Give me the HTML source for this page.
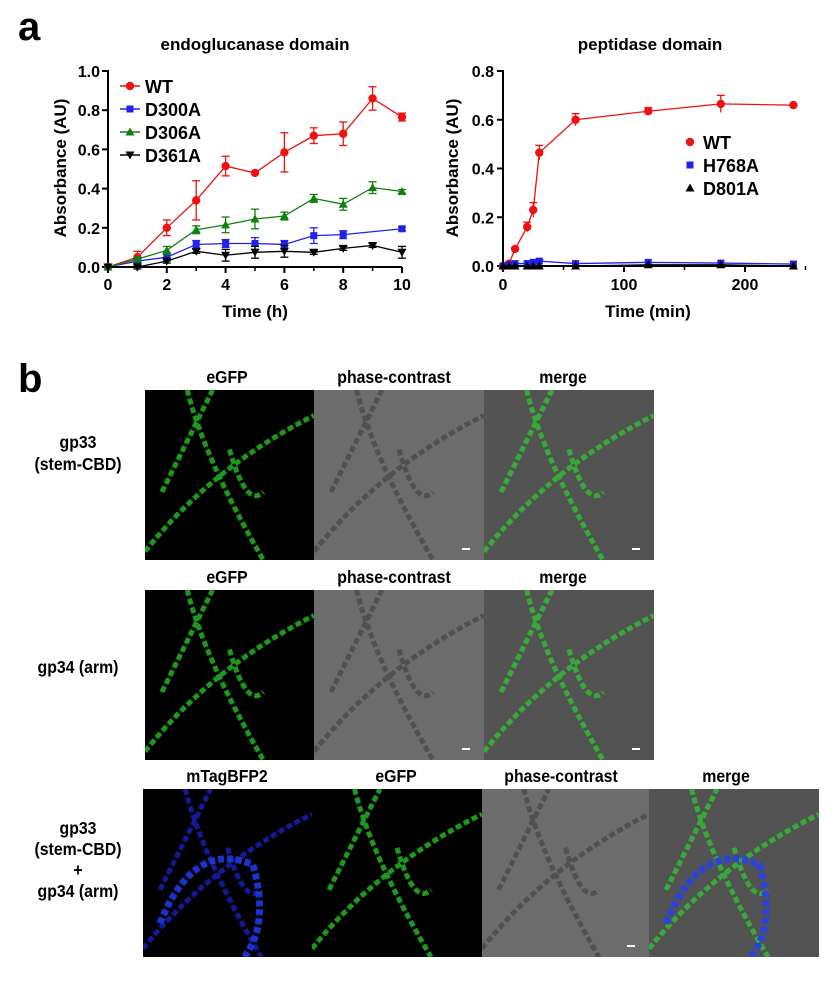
<!DOCTYPE html>
<html><head><meta charset="utf-8"><style>
body{margin:0;background:#fff;width:836px;height:979px;overflow:hidden;font-family:"Liberation Sans",Arial,sans-serif}
svg text{font-family:"Liberation Sans",Arial,sans-serif;font-weight:bold}
</style></head><body>
<svg id="s" width="836" height="979" xmlns="http://www.w3.org/2000/svg">
<text x="18" y="40" font-size="40">a</text>
<text x="18" y="392" font-size="40">b</text>
<text x="255" y="50" font-size="17" text-anchor="middle">endoglucanase domain</text>
<text x="650" y="50" font-size="17" text-anchor="middle">peptidase domain</text>
<text x="255" y="317" font-size="17" text-anchor="middle">Time (h)</text>
<text x="648" y="317" font-size="17" text-anchor="middle">Time (min)</text>
<text transform="translate(66,168) rotate(-90)" font-size="17" text-anchor="middle">Absorbance (AU)</text>
<text transform="translate(458,168) rotate(-90)" font-size="17" text-anchor="middle">Absorbance (AU)</text>
<g id="g"></g>
</svg>
<script>
const g=document.getElementById('g');let h='';
function L(x1,y1,x2,y2,c,w){h+=`<line x1="${x1}" y1="${y1}" x2="${x2}" y2="${y2}" stroke="${c}" stroke-width="${w||1.3}"/>`}
function T(x,y,t,s,a){h+=`<text x="${x}" y="${y}" font-size="${s}" text-anchor="${a||'middle'}">${t}</text>`}
function N(x,y,t){h+=`<text transform="translate(${x},${y}) scale(0.88,1)" font-size="18" text-anchor="middle">${t}</text>`}
function M(x,y,t,c){if(t=='o')h+=`<circle cx="${x}" cy="${y}" r="4.2" fill="${c}"/>`;
else if(t=='s')h+=`<rect x="${x-3.5}" y="${y-3.5}" width="7" height="7" fill="${c}"/>`;
else if(t=='^')h+=`<polygon points="${x},${y-4.5} ${x-4.5},${y+3.5} ${x+4.5},${y+3.5}" fill="${c}"/>`;
else h+=`<polygon points="${x},${y+4.5} ${x-4.5},${y-3.5} ${x+4.5},${y-3.5}" fill="${c}"/>`}
const lx=v=>108+v*29.4, ly=v=>267-v*196;
L(108,70,108,268,'#000',2);L(107,267,402,267,'#000',2);
for(let i=0;i<=5;i++){let v=i*0.2;L(102,ly(v),108,ly(v),'#000',2);T(100,ly(v)+6,v.toFixed(1),16,'end')}
for(let i=0;i<=10;i+=2){L(lx(i),267,lx(i),273,'#000',2);T(lx(i),290,i,16)}
for(let i=1;i<=9;i+=2)L(lx(i),267,lx(i),271,'#000',1.5);
const S=[['#f01010','o',[0,.05,.2,.34,.515,.48,.585,.67,.68,.86,.765],[0,.03,.04,.1,.05,0,.1,.04,.06,.06,.02]],
['#2020f0','s',[0,.03,.05,.115,.12,.12,.115,.16,.165,null,.195],[0,.01,.02,.02,.02,.03,.02,.04,.02,0,.01]],
['#108010','^',[0,.04,.085,.19,.215,.245,.26,.35,.32,.405,.385],[0,.01,.02,.02,.04,.05,.02,.02,.03,.03,.01]],
['#000','v',[0,0,.03,.08,.06,.075,.08,.075,.095,.11,.075],[0,.01,.01,.01,.03,.03,.03,.01,.01,.01,.03]]];
S.forEach(s=>{let p=[];s[2].forEach((v,i)=>{if(v!==null)p.push([lx(i),ly(v),s[3][i]])});
h+=`<polyline points="${p.map(q=>q[0]+','+q[1]).join(' ')}" fill="none" stroke="${s[0]}" stroke-width="1.3"/>`;
p.forEach(q=>{if(q[2]>0){let e=q[2]*196;L(q[0],q[1]-e,q[0],q[1]+e,s[0]);L(q[0]-4,q[1]-e,q[0]+4,q[1]-e,s[0]);L(q[0]-4,q[1]+e,q[0]+4,q[1]+e,s[0])}M(q[0],q[1],s[1],s[0])})});
['WT','D300A','D306A','D361A'].forEach((n,i)=>{let y=86+i*23;L(120,y,140,y,S[i][0],1.5);M(130,y,S[i][1],S[i][0]);T(145,y+7,n,18,'start')});
const rx=v=>503+v*1.21, ry=v=>266-v*243.75;
L(503,70,503,267,'#000',2);L(502,266,795,266,'#000',2);
for(let i=0;i<=4;i++){let v=i*0.2;L(497,ry(v),503,ry(v),'#000',2);T(494,ry(v)+6,v.toFixed(1),16,'end')}
for(let i=0;i<=200;i+=100){L(rx(i),266,rx(i),272,'#000',2);T(rx(i),290,i,16)}
for(let i=50;i<=250;i+=50)if(i%100)L(rx(i),266,rx(i),270,'#000',1.5);
const tm=[0,5,10,20,25,30,60,120,180,240];
const R=[['#f01010','o',[0,.01,.07,.16,.23,.465,.6,.635,.665,.66],[0,0,.005,.02,.03,.03,.025,.015,.035,0]],
['#2020f0','s',[0,.005,.01,.01,.015,.02,.01,.015,.012,.008],[0,0,0,0,0,.005,0,0,0,0]],
['#000','^',[0,0,0,0,0,0,0,.005,.005,0],[0,0,0,0,0,0,0,0,0,0]]];
R.forEach(s=>{let p=s[2].map((v,i)=>[rx(tm[i]),ry(v),s[3][i]]);
h+=`<polyline points="${p.map(q=>q[0]+','+q[1]).join(' ')}" fill="none" stroke="${s[0]}" stroke-width="1.3"/>`;
p.forEach(q=>{if(q[2]>0){let e=q[2]*243.75;L(q[0],q[1]-e,q[0],q[1]+e,s[0]);L(q[0]-4,q[1]-e,q[0]+4,q[1]-e,s[0])}M(q[0],q[1],s[1],s[0])})});
['WT','H768A','D801A'].forEach((n,i)=>{let y=142+i*23;M(690,y,R[i][1],R[i][0]);T(703,y+7,n,18,'start')});
function img(x,y,w,hh,type,seed,blue){
 let bg={g:'#000',b:'#000',p:'#6c6c6c',m:'#525252'}[type];h+=`<rect x="${x}" y="${y}" width="${w}" height="${hh}" fill="${bg}"/>`;
 let col={g:'#22c022',b:'#1a20c0',p:'#4a4a4a',m:'#30c030'}[type];
 h+=`<clipPath id="c${seed}"><rect x="${x}" y="${y}" width="${w}" height="${hh}"/></clipPath><g clip-path="url(#c${seed})" fill="none" stroke="${col}" stroke-width="5" stroke-dasharray="6 3" opacity="0.8">`;
 let paths=[`M${x},${y+hh*0.95} Q${x+w*0.4},${y+hh*0.45} ${x+w},${y+hh*0.15}`,
 `M${x+w*0.25},${y} Q${x+w*0.35},${y+hh*0.4} ${x+w*0.7},${y+hh}`,
 `M${x+w*0.1},${y+hh*0.6} Q${x+w*0.3},${y+hh*0.2} ${x+w*0.4},${y}`,
 `M${x+w*0.5},${y+hh*0.35} Q${x+w*0.6},${y+hh*0.7} ${x+w*0.7},${y+hh*0.6}`];
 paths.forEach(d=>h+=`<path d="${d}"/>`);
 if(blue)h+=`<path d="M${x+w*0.1},${y+hh*0.8} Q${x+w*0.3},${y+hh*0.3} ${x+w*0.65},${y+hh*0.45} Q${x+w*0.75},${y+hh*0.8} ${x+w*0.6},${y+hh}" stroke="#2040ff" stroke-width="7"/>`;
 h+='</g>';
 if(type=='p'||(type=='m'&&seed<6))h+=`<line x1="${x+w-22}" y1="${y+hh-11}" x2="${x+w-14}" y2="${y+hh-11}" stroke="#fff" stroke-width="2"/>`;
}
let k=0;
[[390,170,['gp33','(stem-CBD)'],448],[590,170,['gp34 (arm)'],673]].forEach(([y,hh,ls,ty])=>{
 [145,314,484].forEach((x,i)=>img(x,y,[169,170,170][i],hh,['g','p','m'][i],k++,false));
 N(227,y-7,'eGFP');N(394,y-7,'phase-contrast');N(563,y-7,'merge');
 ls.forEach((l,i)=>N(78,ty+i*22,l));
});
[143,312,482,649].forEach((x,i)=>img(x,789,[169,170,167,170][i],168,['b','g','p','m'][i],k++,i==0||i==3));
N(227,782,'mTagBFP2');N(396,782,'eGFP');N(561,782,'phase-contrast');N(726,782,'merge');
['gp33','(stem-CBD)','+','gp34 (arm)'].forEach((l,i)=>N(78,834+i*21,l));
g.innerHTML=h;
</script>
</body></html>
